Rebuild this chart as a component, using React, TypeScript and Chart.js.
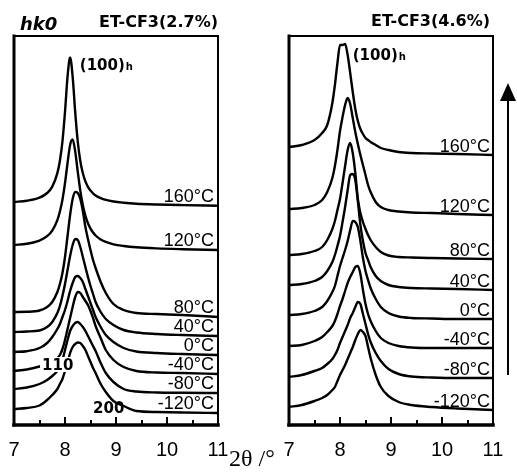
import { useEffect, useRef } from "react";
import { Chart, registerables } from "chart.js";

Chart.register(...registerables);

// 2θ sampling grid (degrees), shared by every profile
const TWO_THETA = [
  7.0, 7.25, 7.5, 7.65, 7.75, 7.85, 7.9, 7.95, 8.0, 8.05, 8.1, 8.15, 8.2, 8.25, 8.3,
  8.35, 8.4, 8.45, 8.5, 8.55, 8.6, 8.7, 8.8, 8.95, 9.15, 9.4, 9.8, 10.3, 11.0,
];

// curve labels, top to bottom
const TEMPERATURES = ["160°C", "120°C", "80°C", "40°C", "0°C", "-40°C", "-80°C", "-120°C"];

// ET-CF3 (2.7%) stacked intensities (a.u., vertical offset included)
const CF27_160C = [223, 224.3, 227.3, 232, 238.4, 251.9, 264.2, 283.6, 313, 348.5, 367.5, 348.4, 312.9, 283.5, 264, 251.7, 243.6, 238.2, 234.4, 231.7, 229.6, 226.9, 225.1, 223.5, 222.3, 221.3, 220.5, 219.9, 219.3];
const CF27_120C = [180, 181.2, 184.4, 188.8, 194.4, 204.9, 213.5, 225.3, 241.8, 262, 280.1, 285.5, 273.6, 253.4, 234.4, 219.7, 209.2, 201.7, 196.4, 192.5, 189.5, 185.6, 183.1, 180.7, 179, 177.7, 176.6, 175.8, 175];
const CF27_80C = [113, 113.2, 114.5, 118, 123, 133, 141, 152, 168, 189, 210, 226, 233, 232, 226, 214, 198, 186, 175, 165, 157, 143, 132, 121, 115, 112, 111, 110, 108];
const CF27_40C = [93, 93.5, 94.5, 98, 103, 112, 119, 129, 141, 155, 169, 180, 186, 185, 178, 168, 158, 148, 139, 131, 123, 113, 106, 100, 95, 92.5, 91, 90, 89];
const CF27_0C = [73, 73.8, 77, 82, 88, 96, 101, 108, 115, 124, 134, 142, 148, 149, 147, 143, 136, 129, 122, 115, 108, 98, 90, 83, 77, 73.5, 72, 71, 70];
const CF27_M40C = [54, 55.5, 58.5, 61, 63.5, 67, 70, 76, 85, 96, 107, 118, 128, 133, 132, 128, 124, 120, 114, 107, 99, 87, 75, 65, 58, 54, 52.5, 52, 51];
const CF27_M80C = [36, 37.5, 41, 45, 49, 54, 58, 65, 75, 85, 94, 99, 102, 103, 101, 98, 94, 89, 84, 79, 74, 62, 52, 43, 36, 33.5, 32.5, 32.2, 32];
const CF27_M120C = [16, 17, 19.5, 25, 30, 36, 41, 46, 54, 62, 72, 78, 81, 82.5, 82, 79, 75, 69, 63, 57, 52, 41, 33, 24, 19, 14, 13, 12.5, 12];

// ET-CF3 (4.6%) stacked intensities (a.u., vertical offset included)
const CF46_160C = [278, 280, 285, 292, 300, 322, 340, 362, 380, 380, 381, 370, 352, 333, 316, 304, 296, 291, 287, 285, 283, 280, 277, 275, 273, 272, 271.5, 271, 270];
const CF46_120C = [216, 217, 220, 225, 233, 247, 259, 275, 294, 308, 320, 327, 321, 307, 293, 281, 270, 260, 250, 240, 233, 223, 218, 215, 213.5, 212.5, 212, 211, 210];
const CF46_80C = [170, 171, 174, 178, 185, 196, 204, 215, 226, 242, 259, 275, 282, 272, 252, 226, 212, 203, 196, 190, 185, 178, 173, 169.5, 168, 167.5, 167, 166.5, 166];
const CF46_40C = [140, 141, 144, 148, 154, 163, 170, 179, 189, 203, 218, 235, 250, 251, 245, 224, 200, 184, 172, 165, 158, 149, 144, 140, 138, 137, 136.5, 136, 135];
const CF46_0C = [110, 111, 114, 118, 124, 133, 139, 149, 159, 167, 175, 184, 195, 204, 203, 198, 184, 167, 154, 145, 137, 126, 118, 112, 108.5, 107, 106.5, 106, 106];
const CF46_M40C = [79, 80, 84, 88, 93, 99, 104, 111, 119, 126, 134, 142, 148, 153, 158, 159, 151, 135, 121, 111, 104, 94, 87, 82, 79, 77.5, 77, 77, 77];
const CF46_M80C = [48, 50, 54, 57, 61, 66, 70, 75, 82, 88, 94, 100, 107, 112, 118, 123, 121, 111, 101, 91, 83, 72, 64, 56, 51, 48.5, 47.5, 47, 47];
const CF46_M120C = [18, 20, 24, 27, 30, 35, 38, 44, 50, 55, 60, 66, 72, 78, 85, 91, 95, 93, 89, 78, 67, 50, 38, 29, 23, 20, 18, 16.5, 15];

const CF27_PROFILES = [CF27_160C, CF27_120C, CF27_80C, CF27_40C, CF27_0C, CF27_M40C, CF27_M80C, CF27_M120C];
const CF46_PROFILES = [CF46_160C, CF46_120C, CF46_80C, CF46_40C, CF46_0C, CF46_M40C, CF46_M80C, CF46_M120C];

// reflection labels placed in data coordinates (2θ, intensity)
type Note = { text: string; sub?: string; x: number; y: number; mask?: boolean };
const CF27_NOTES: Note[] = [
  { text: "(100)", sub: "h", x: 8.29, y: 355 },
  { text: "110", x: 7.55, y: 55, mask: true },
  { text: "200", x: 8.55, y: 12 },
];
const CF46_NOTES: Note[] = [{ text: "(100)", sub: "h", x: 8.25, y: 365 }];

const X_MIN = 7;
const X_MAX = 11;
const Y_MAX = 389;

const W = 517;
const H = 473;

type Panel = {
  profiles: number[][];
  title: string;
  notes: Note[];
  padLeft: number;
  padRight: number;
  labelInset: number;
  labelLift: number;
  titleInset: number;
  titleLift: number;
  tag?: string;
  axisTitle?: string;
  arrow?: boolean;
};

const BOLD = '"DejaVu Sans", Verdana, sans-serif';
const SANS = '"Liberation Sans", Arial, sans-serif';
const SERIF = '"Liberation Serif", "Times New Roman", serif';

function seg(ctx: CanvasRenderingContext2D, x1: number, y1: number, x2: number, y2: number, w: number) {
  ctx.lineWidth = w;
  ctx.beginPath();
  ctx.moveTo(x1, y1);
  ctx.lineTo(x2, y2);
  ctx.stroke();
}

function decor(panel: Panel) {
  return {
    id: "panelDecor",
    afterDatasetsDraw(chart: any) {
      const { ctx, chartArea: a } = chart;
      const xs = chart.scales.x;
      const ys = chart.scales.y;
      ctx.save();
      ctx.fillStyle = "#000";
      ctx.strokeStyle = "#000";

      // inward tick marks: long on whole degrees, short on halves
      for (const t of xs.ticks) {
        if (t.value <= xs.min || t.value >= xs.max) continue;
        const px = Math.round(xs.getPixelForValue(t.value));
        const len = Number.isInteger(t.value) ? 8 : 5;
        seg(ctx, px, a.bottom, px, a.bottom - len, 2);
      }

      // frame
      ctx.lineCap = "square";
      seg(ctx, a.left, a.top, a.right, a.top, 2);
      seg(ctx, a.right, a.top, a.right, a.bottom, 2);
      seg(ctx, a.left, a.top, a.left, a.bottom, 3);
      seg(ctx, a.left, a.bottom, a.right, a.bottom, 3.5);
      ctx.lineCap = "butt";

      // temperature labels sitting on each curve's right end
      ctx.font = `18px ${SANS}`;
      ctx.textAlign = "right";
      ctx.textBaseline = "alphabetic";
      panel.profiles.forEach((p, i) => {
        const yEnd = ys.getPixelForValue(p[p.length - 1]);
        ctx.fillText(TEMPERATURES[i], a.right - panel.labelInset, yEnd - panel.labelLift);
      });

      // reflection labels
      ctx.textAlign = "left";
      for (const n of panel.notes) {
        const px = xs.getPixelForValue(n.x);
        const py = ys.getPixelForValue(n.y);
        ctx.font = `bold 15px ${BOLD}`;
        const w = ctx.measureText(n.text).width;
        if (n.mask) {
          ctx.fillStyle = "#fff";
          ctx.fillRect(px - 2, py - 13, w + 4, 15);
          ctx.fillStyle = "#000";
        }
        ctx.fillText(n.text, px, py);
        if (n.sub) {
          ctx.font = `bold 10px ${BOLD}`;
          ctx.fillText(n.sub, px + w + 1, py);
        }
      }

      // panel title
      ctx.font = `bold 16px ${BOLD}`;
      ctx.textAlign = "right";
      ctx.fillText(panel.title, a.right - panel.titleInset, a.top - panel.titleLift);

      if (panel.tag) {
        ctx.font = `italic bold 18px ${BOLD}`;
        ctx.textAlign = "left";
        ctx.fillText(panel.tag, a.left + 6, a.top - 6);
      }

      if (panel.axisTitle) {
        ctx.font = `24px ${SERIF}`;
        ctx.textAlign = "left";
        ctx.fillText(panel.axisTitle, a.right + 11, a.bottom + 41);
      }

      if (panel.arrow) {
        const ax = a.right + 15;
        seg(ctx, ax, a.bottom - 50, ax, a.top + 62, 2);
        ctx.beginPath();
        ctx.moveTo(ax, a.top + 47);
        ctx.lineTo(ax - 8, a.top + 65);
        ctx.lineTo(ax + 8, a.top + 65);
        ctx.closePath();
        ctx.fill();
      }
      ctx.restore();
    },
  };
}

function makeChart(canvas: HTMLCanvasElement, panel: Panel) {
  return new Chart(canvas, {
    type: "line",
    data: {
      datasets: panel.profiles.map((p, i) => ({
        label: TEMPERATURES[i],
        data: TWO_THETA.map((x, j) => ({ x, y: p[j] })),
        borderColor: "#000",
        borderWidth: 2.4,
        pointRadius: 0,
        fill: false,
        tension: 0.4,
        cubicInterpolationMode: "monotone" as const,
      })),
    },
    options: {
      animation: false,
      responsive: false,
      devicePixelRatio: 1,
      layout: { padding: { left: panel.padLeft, right: panel.padRight, top: 36, bottom: 8 } },
      plugins: { legend: { display: false }, tooltip: { enabled: false } },
      events: [],
      scales: {
        x: {
          type: "linear",
          min: X_MIN,
          max: X_MAX,
          grid: { display: false },
          border: { display: false },
          afterFit: (scale: any) => {
            scale.height = 40;
          },
          ticks: {
            stepSize: 0.5,
            autoSkip: false,
            maxRotation: 0,
            padding: 5,
            color: "#000",
            font: { size: 20, family: SANS },
            callback: (v: any) => (Number.isInteger(v) ? String(v) : ""),
          },
        },
        y: { type: "linear", display: false, min: 0, max: Y_MAX },
      },
    },
    plugins: [decor(panel)],
  } as any);
}

const LEFT_PANEL: Panel = {
  profiles: CF27_PROFILES,
  title: "ET-CF3(2.7%)",
  notes: CF27_NOTES,
  padLeft: 14,
  padRight: W - 218,
  labelInset: 4,
  labelLift: 4,
  titleInset: 0,
  titleLift: 9,
  tag: "hk0",
  axisTitle: "2θ /°",
};

const RIGHT_PANEL: Panel = {
  profiles: CF46_PROFILES,
  title: "ET-CF3(4.6%)",
  notes: CF46_NOTES,
  padLeft: 289,
  padRight: W - 493,
  labelInset: 3,
  labelLift: 3,
  titleInset: 3,
  titleLift: 10,
  arrow: true,
};

export default function App() {
  const leftRef = useRef<HTMLCanvasElement>(null);
  const rightRef = useRef<HTMLCanvasElement>(null);

  useEffect(() => {
    const c1 = makeChart(leftRef.current!, LEFT_PANEL);
    const c2 = makeChart(rightRef.current!, RIGHT_PANEL);
    return () => {
      c1.destroy();
      c2.destroy();
    };
  }, []);

  const canvasStyle = { position: "absolute" as const, left: 0, top: 0, width: W, height: H };
  return (
    <div style={{ position: "absolute", left: 0, top: 0, width: W, height: H, background: "#fff" }}>
      <canvas ref={leftRef} width={W} height={H} style={canvasStyle} />
      <canvas ref={rightRef} width={W} height={H} style={canvasStyle} />
    </div>
  );
}
